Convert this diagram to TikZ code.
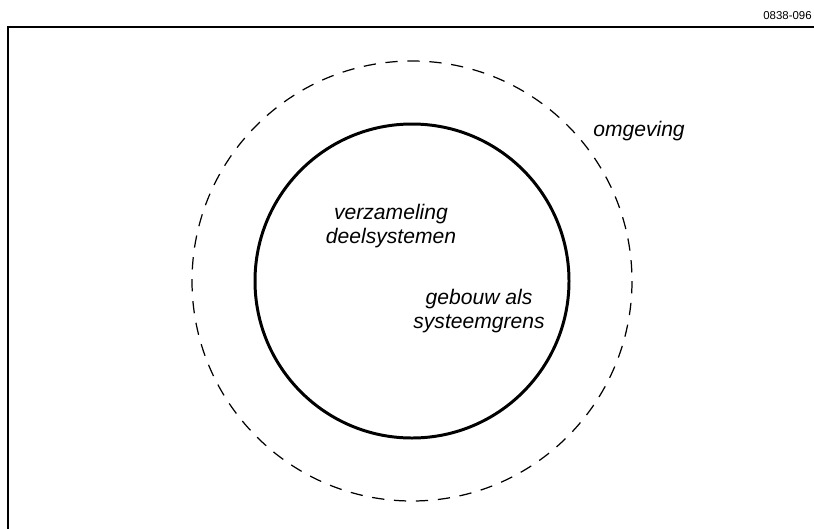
\documentclass[tikz,border=0pt]{standalone}
\usepackage{fontspec}
\setmainfont{Liberation Sans}
\usepackage{tikz}
\usetikzlibrary{positioning}

\begin{document}
\begin{tikzpicture}[
  x=0.02cm, y=-0.02cm,
  lbl/.style={font=\fontsize{12}{13.5}\selectfont\itshape, align=center, inner sep=0pt},
  frame/.style={line width=1.1pt},
  grens/.style={line width=1.7pt},
  omg/.style={line width=0.7pt, dash pattern=on 7pt off 5.5pt},
]
  \useasboundingbox (0,0) rectangle (814,528);

  % frame, open to the right and below
  \draw[frame] (8,560) -- (8,27) -- (850,27);
  \node[anchor=base east, inner sep=0pt, font=\fontsize{6.5}{8}\selectfont] (code) at (812,19) {0838-096};

  % circles
  \coordinate (centre) at (412,281);
  \draw[omg] (centre) circle (220);
  \draw[grens] (centre) circle (157);

  % labels
  \node[lbl] (deel) at (391,226) {verzameling\\deelsystemen};
  \node[lbl] (gebouw) at (479,311) {gebouw als\\systeemgrens};
  \node[lbl] (omgeving) at (639,131) {omgeving};
\end{tikzpicture}
\end{document}
